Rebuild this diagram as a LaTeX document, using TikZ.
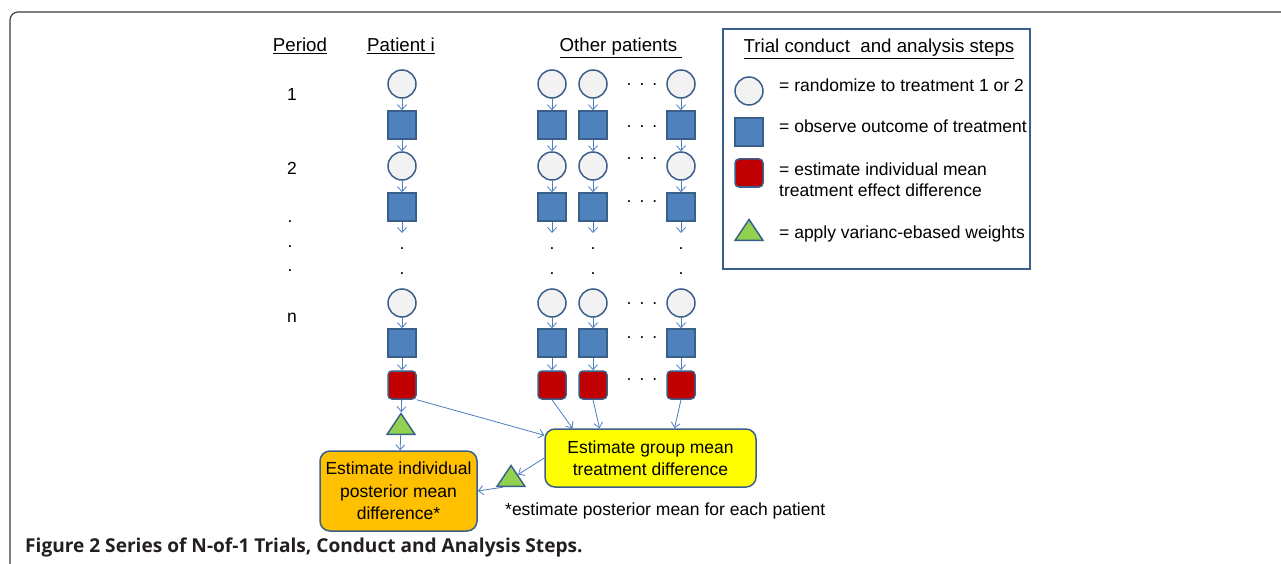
\documentclass[tikz,border=0pt]{standalone}
\usepackage{fontspec}
\setmainfont{Liberation Sans}
\newfontfamily\capfont{Open Sans}
\usetikzlibrary{arrows.meta,shapes.geometric,positioning}
\definecolor{rndfill}{HTML}{F2F2F2}
\definecolor{shapeline}{HTML}{3A5F8B}
\definecolor{obsfill}{HTML}{4F81BD}
\definecolor{estfill}{HTML}{C00000}
\definecolor{wgtfill}{HTML}{92D050}
\definecolor{flowcol}{HTML}{4A7EC0}
\definecolor{indivfill}{HTML}{FFC000}
\definecolor{grpfill}{HTML}{FFFF00}
\definecolor{framecol}{HTML}{3C3C3C}
\definecolor{captext}{HTML}{231F20}
\newcommand\rowdots{.\hspace{.46em}.\hspace{.46em}.}
\begin{document}
\begin{tikzpicture}[x=1pt, y=-1pt,
  every node/.style={font=\fontsize{17.5}{22.5}\selectfont},
  heading/.style={anchor=base, font=\fontsize{18.7}{22.5}\selectfont},
  rnd/.style={circle, draw=shapeline, fill=rndfill, line width=1.5pt, minimum size=28pt, inner sep=0pt},
  obs/.style={rectangle, draw=shapeline, fill=obsfill, line width=1.5pt, minimum size=28pt, inner sep=0pt},
  est/.style={obs, fill=estfill, rounded corners=4pt},
  wgt/.style={isosceles triangle, isosceles triangle stretches, shape border rotate=90,
              draw=shapeline, fill=wgtfill, line width=1.5pt, minimum width=28pt, minimum height=21pt, inner sep=0pt},
  flow/.style={draw=flowcol, line width=0.8pt, -{Straight Barb[length=5pt,width=9pt]}},
  dot/.style={inner sep=0pt},
  result/.style={draw=shapeline, line width=1.5pt, rounded corners=10pt, align=center}]
  \useasboundingbox (0,0) rectangle (1281,564);
  % Page frame and caption
  \draw[framecol, line width=1.2pt, rounded corners=8pt] (1290,12) -- (10,12) -- (10,575);
  \node[anchor=base west, inner sep=0pt, text=captext, font=\capfont\fontsize{19.1}{22}\selectfont\bfseries] (caption) at (25,552)
    {Figure 2 Series of N-of-1 Trials, Conduct and Analysis Steps.};
  % Column headings
  \node[heading] (hperiod) at (300,52) {\underline{Period}};
  \node[heading] (hpatient) at (401,52) {\underline{Patient i}};
  \node[heading] (hothers) at (621,52) {\underline{Other patients\ }};
  % Period labels
  \node[anchor=base] (p1) at (292,101) {1};
  \node[anchor=base] (p2) at (292,175) {2};
  \foreach \y [count=\k] in {222,247,271}
    \node[dot] (pd\k) at (290,\y) {.};
  \node[anchor=base] (pn) at (292,322) {n};
  % Patient columns
  \foreach \c/\x in {i/402,a/552,b/593,c/681} {
    \node[rnd] (c1-\c) at (\x,84) {};
    \node[obs] (o1-\c) at (\x,125) {};
    \node[rnd] (c2-\c) at (\x,166) {};
    \node[obs] (o2-\c) at (\x,207) {};
    \coordinate (e2-\c) at (\x,233);
    \node[dot] (d1-\c) at (\x,249) {.};
    \node[dot] (d2-\c) at (\x,274) {.};
    \node[rnd] (cn-\c) at (\x,303) {};
    \node[obs] (on-\c) at (\x,343) {};
    \node[est] (r-\c) at (\x,385) {};
    \draw[flow] (c1-\c) -- (o1-\c);
    \draw[flow] (o1-\c) -- (c2-\c);
    \draw[flow] (c2-\c) -- (o2-\c);
    \draw[flow] (o2-\c) -- (e2-\c);
    \draw[flow] (cn-\c) -- (on-\c);
    \draw[flow] (on-\c) -- (r-\c);
  }
  % Dots between other patients
  \foreach \y [count=\k] in {85,127,159,202,304,338,380}
    \node[dot] (h\k) at (642,\y) {\rowdots};
  % Combining the estimates
  \node[wgt] (w-i) at (401,427) {};
  \node[result, fill=indivfill, minimum width=157pt, minimum height=80pt] (indiv) at (398.5,491)
    {Estimate individual\\posterior mean\\difference*};
  \node[result, fill=grpfill, minimum width=211pt, minimum height=58pt] (grp) at (650.5,458)
    {Estimate group mean\\treatment difference};
  \node[wgt] (w-g) at (511,479) {};
  \draw[flow] (r-i) -- (w-i);
  \draw[flow] (w-i) -- (indiv);
  \draw[flow] (r-i.south east) -- ([yshift=-7pt]grp.north west);
  \foreach \c/\dx in {a/-78,b/-51,c/24}
    \draw[flow] (r-\c.south) -- ([xshift=\dx pt]grp.north);
  \draw[flow] (grp.west) -- (w-g);
  \draw[flow] (w-g.south west) -- (indiv.east);
  \node[anchor=base west, inner sep=0pt] (note) at (505,515) {*estimate posterior mean for each patient};
  % Legend
  \node[draw=shapeline, line width=1.5pt, minimum width=307pt, minimum height=240pt] (legend) at (876.5,149) {};
  \node[heading] (ltitle) at (879,53) {\underline{Trial conduct\ \ and analysis steps}};
  \node[rnd] (lrnd) at (749,91) {};
  \node[obs] (lobs) at (749,132) {};
  \node[est] (lest) at (749,173) {};
  \node[wgt] (lwgt) at (749,233) {};
  \node[anchor=base west, inner sep=0pt] (trnd) at (779,92) {= randomize to treatment 1 or 2};
  \node[anchor=base west, inner sep=0pt] (tobs) at (779,133) {= observe outcome of treatment};
  \node[anchor=north west, inner sep=0pt, align=left, font=\fontsize{17.5}{21}\selectfont] (test) at (779,163)
    {= estimate individual mean\\treatment effect difference};
  \node[anchor=base west, inner sep=0pt] (twgt) at (779,238) {= apply varianc-ebased weights};
\end{tikzpicture}
\end{document}
